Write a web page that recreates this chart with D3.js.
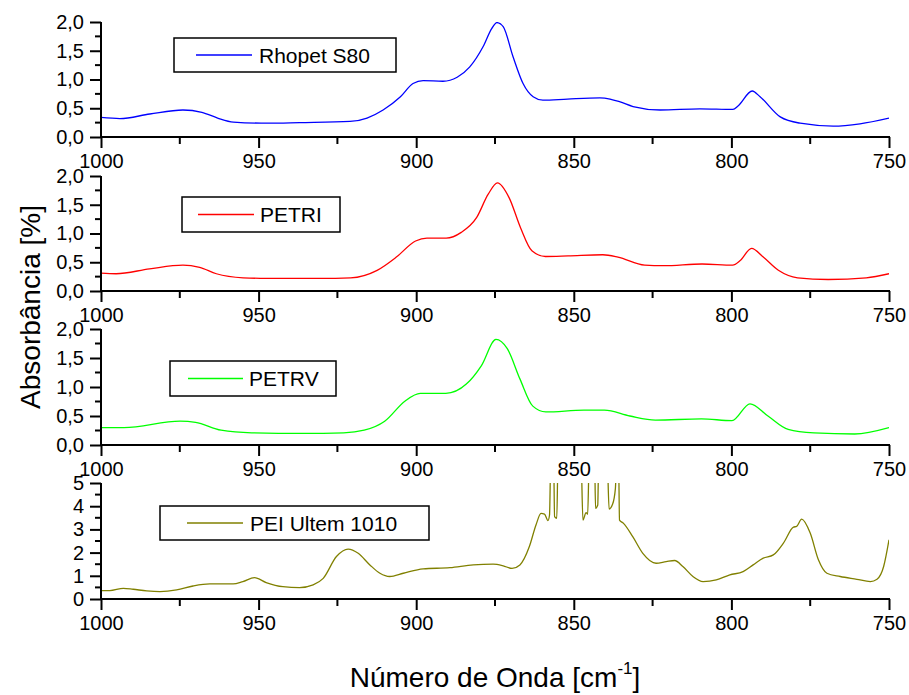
<!DOCTYPE html>
<html>
<head>
<meta charset="utf-8">
<script src="https://cdn.jsdelivr.net/npm/d3@7"></script>
<style>
  html, body { margin: 0; padding: 0; background: #fff; }
  svg { display: block; font-family: "Liberation Sans", Arial, sans-serif; }
</style>
</head>
<body>
<svg id="chart" width="909" height="695"></svg>
<script>
// Spectra: wavenumber [cm-1] and absorbance values
const rhopetWn  = [1000, 994, 984.5, 974, 968, 963, 958, 947, 937, 921, 915.6, 910.5, 905, 901, 897.8, 891.5, 887, 883, 878.8, 876, 874.4, 872.4, 869.3, 866.1, 862.9, 859.8, 852, 841.7, 838.5, 835.3, 831.2, 822.6, 810, 799.5, 797.9, 793.4, 790.9, 784.5, 778.2, 767.7, 759.2, 750];
const rhopetAbs = [0.34, 0.32, 0.40, 0.47, 0.43, 0.33, 0.26, 0.24, 0.25, 0.27, 0.33, 0.47, 0.70, 0.93, 0.98, 0.97, 1.04, 1.22, 1.57, 1.89, 1.99, 1.92, 1.40, 0.93, 0.70, 0.64, 0.66, 0.68, 0.66, 0.61, 0.53, 0.47, 0.49, 0.48, 0.54, 0.80, 0.70, 0.35, 0.24, 0.19, 0.23, 0.33];

const petriWn  = [1000, 995.2, 984.6, 974, 968.7, 963.4, 954.9, 947.5, 930.5, 920.8, 912.4, 906.3, 900.2, 896.6, 890.5, 885.7, 880.8, 877.2, 874.2, 870.5, 866.9, 863.3, 859.0, 851.8, 840.8, 836.0, 827.5, 821.5, 809.3, 799.6, 797.2, 793.6, 789.9, 785.1, 779.0, 769.3, 757.2, 750];
const petriAbs = [0.31, 0.30, 0.385, 0.45, 0.41, 0.30, 0.23, 0.22, 0.22, 0.23, 0.36, 0.59, 0.87, 0.92, 0.92, 1.02, 1.28, 1.68, 1.88, 1.62, 1.10, 0.70, 0.60, 0.61, 0.63, 0.59, 0.45, 0.44, 0.47, 0.45, 0.53, 0.74, 0.59, 0.36, 0.23, 0.20, 0.23, 0.30];

const petrvWn  = [1000, 992.7, 974.9, 970, 961.9, 952.2, 936, 923, 916.5, 910, 903.5, 898.7, 890.6, 884.1, 879.3, 874.7, 871.1, 867.1, 863, 858.9, 846.8, 840.3, 832.2, 824.1, 809.5, 799.8, 794.1, 788.4, 782, 773.8, 760.9, 750];
const petrvAbs = [0.30, 0.30, 0.41, 0.39, 0.255, 0.21, 0.20, 0.21, 0.255, 0.41, 0.76, 0.89, 0.89, 1.05, 1.37, 1.82, 1.66, 1.14, 0.67, 0.57, 0.60, 0.60, 0.50, 0.43, 0.45, 0.42, 0.71, 0.50, 0.27, 0.21, 0.19, 0.30];

const peiWn  = [1000, 997.2, 992.9, 989.8, 985.5, 981.3, 976, 970.8, 965.5, 958.1, 955, 951.3, 947.6, 942.3, 937, 932.7, 929.5, 925.3, 921.6, 918.4, 914.7, 911.5, 908.4, 904.1, 897.8, 889.3, 881.9, 875.6, 872.4, 869.6, 867.1, 864.1, 862, 860.4, 859.3, 858.2, 857.7, 857.3, 856.4, 856.1, 855.4, 855.0, 847.7, 847.1, 846.1, 845.6, 845.1, 843.4, 843.1, 842.4, 842.1, 839.4, 838.8, 837.7, 836.8, 836.4, 835.8, 835.5, 834.3, 831.3, 828.1, 823.9, 820.7, 818, 815.4, 812.2, 809, 804.8, 800.5, 796.3, 793.1, 789.9, 786.7, 783.5, 780.3, 779.3, 777.7, 775, 772.4, 769.7, 765.5, 760.2, 755.9, 753.8, 751.7, 750];
const peiAbs = [0.36, 0.36, 0.46, 0.42, 0.35, 0.32, 0.39, 0.56, 0.65, 0.65, 0.75, 0.92, 0.71, 0.53, 0.49, 0.61, 0.89, 1.83, 2.15, 1.97, 1.47, 1.11, 0.97, 1.11, 1.30, 1.35, 1.47, 1.50, 1.43, 1.32, 1.47, 2.26, 3.19, 3.69, 3.66, 3.38, 3.62, 6.0, 6.0, 3.55, 3.48, 6.0, 6.0, 3.40, 3.72, 3.65, 6.0, 6.0, 3.91, 4.05, 6.0, 6.0, 3.88, 4.08, 4.77, 6.0, 6.0, 3.40, 3.27, 2.69, 1.97, 1.54, 1.61, 1.66, 1.40, 0.97, 0.75, 0.82, 1.04, 1.18, 1.47, 1.76, 1.90, 2.41, 3.10, 3.13, 3.44, 2.84, 1.69, 1.11, 0.97, 0.85, 0.75, 0.85, 1.40, 2.55];

const seriesNames  = ["Rhopet S80", "PETRI", "PETRV", "PEI Ultem 1010"];
const seriesColors = ["#0000ff", "#ff0000", "#00ff00", "#808000"];
const xTickValues  = [1000, 950, 900, 850, 800, 750];
const yTicksPet    = [0, 0.5, 1.0, 1.5, 2.0];
const yTicksPei    = [0, 1, 2, 3, 4, 5];

const svg = d3.select("#chart");
const left = 101, right = 889;

const x = d3.scaleLinear().domain([1000, 750]).range([left, right]);

const commaFmt = v => d3.format(".1f")(v).replace(".", ",");

const panels = [
  { wn: rhopetWn, abs: rhopetAbs, top: 22,  bottom: 137, ymax: 2, ticks: yTicksPet, minor: 0.25, fmt: commaFmt,
    legend: { x: 174, y: 38, w: 222, h: 34, lx1: 196, lx2: 252, tx: 259 } },
  { wn: petriWn, abs: petriAbs, top: 176, bottom: 291, ymax: 2, ticks: yTicksPet, minor: 0.25, fmt: commaFmt,
    legend: { x: 182, y: 197, w: 158, h: 35, lx1: 198, lx2: 254, tx: 260 } },
  { wn: petrvWn, abs: petrvAbs, top: 329, bottom: 445, ymax: 2, ticks: yTicksPet, minor: 0.25, fmt: commaFmt,
    legend: { x: 170, y: 361, w: 166, h: 35, lx1: 188, lx2: 243, tx: 249 } },
  { wn: peiWn, abs: peiAbs, top: 483, bottom: 599, ymax: 5, ticks: yTicksPei, minor: 0.5, fmt: d3.format("d"),
    legend: { x: 160, y: 506, w: 269, h: 34, lx1: 187, lx2: 243, tx: 250 } }
];

const defs = svg.append("defs");

panels.forEach((p, i) => {
  const y = d3.scaleLinear().domain([0, p.ymax]).range([p.bottom, p.top]);
  const g = svg.append("g");

  // clip region for the spectrum
  defs.append("clipPath").attr("id", "clip" + i)
    .append("rect").attr("x", left).attr("y", p.top).attr("width", right - left).attr("height", p.bottom - p.top);

  const data = p.wn.map((w, k) => [w, p.abs[k]]);
  const line = d3.line().x(d => x(d[0])).y(d => y(d[1])).curve(d3.curveMonotoneX);
  g.append("path").datum(data)
    .attr("clip-path", `url(#clip${i})`)
    .attr("fill", "none").attr("stroke", seriesColors[i]).attr("stroke-width", 1.3)
    .attr("d", line);

  // x axis (bottom)
  const xMinor = d3.range(1000, 749, -25).filter(v => !xTickValues.includes(v));
  const xAxis = d3.axisBottom(x).tickValues(xTickValues).tickSize(11).tickPadding(6).tickFormat(d3.format("d"));
  const xg = g.append("g").attr("transform", `translate(0,${p.bottom})`).call(xAxis);
  xg.selectAll(".domain").remove();
  xg.append("line").attr("x1", left - 1).attr("x2", right + 1).attr("stroke", "#000").attr("stroke-width", 2);
  xg.selectAll(".tick line").attr("stroke-width", 2);
  xg.selectAll(".tick text").attr("font-size", 20).attr("fill", "#000").attr("font-family", "Liberation Sans, Arial, sans-serif");
  xg.selectAll(".minor").data(xMinor).enter().append("line")
    .attr("x1", d => x(d)).attr("x2", d => x(d)).attr("y1", 0).attr("y2", 7)
    .attr("stroke", "#000").attr("stroke-width", 2);

  // y axis (left)
  const yMinor = d3.range(0, p.ymax + 1e-9, p.minor).filter(v => !p.ticks.some(t => Math.abs(t - v) < 1e-9));
  const yAxis = d3.axisLeft(y).tickValues(p.ticks).tickSize(11).tickPadding(6).tickFormat(p.fmt);
  const yg = g.append("g").attr("transform", `translate(${left},0)`).call(yAxis);
  yg.selectAll(".domain").remove();
  yg.append("line").attr("y1", p.top).attr("y2", p.bottom + 1).attr("stroke", "#000").attr("stroke-width", 2);
  yg.selectAll(".tick line").attr("stroke-width", 2);
  yg.selectAll(".tick text").attr("font-size", 20).attr("fill", "#000").attr("font-family", "Liberation Sans, Arial, sans-serif");
  yg.selectAll(".minor").data(yMinor).enter().append("line")
    .attr("x1", -6).attr("x2", 0).attr("y1", d => y(d)).attr("y2", d => y(d))
    .attr("stroke", "#000").attr("stroke-width", 2);

  // legend
  const L = p.legend;
  g.append("rect").attr("x", L.x).attr("y", L.y).attr("width", L.w).attr("height", L.h)
    .attr("fill", "#fff").attr("stroke", "#000").attr("stroke-width", 1.5);
  g.append("line").attr("x1", L.lx1).attr("x2", L.lx2).attr("y1", L.y + L.h / 2).attr("y2", L.y + L.h / 2)
    .attr("stroke", seriesColors[i]).attr("stroke-width", 1.3);
  g.append("text").attr("x", L.tx).attr("y", L.y + L.h / 2).attr("dy", "0.36em")
    .attr("font-size", 21).attr("fill", "#000").text(seriesNames[i]);
});

// axis titles
svg.append("text")
  .attr("transform", "translate(40,307) rotate(-90)")
  .attr("text-anchor", "middle").attr("font-size", 28).attr("fill", "#000")
  .text("Absorbância [%]");

const xt = svg.append("text")
  .attr("x", 495).attr("y", 687).attr("text-anchor", "middle").attr("font-size", 28).attr("fill", "#000");
xt.append("tspan").text("Número de Onda [cm");
xt.append("tspan").attr("font-size", 17).attr("dy", -13).text("-1");
xt.append("tspan").attr("dy", 13).text("]");
</script>
</body>
</html>
